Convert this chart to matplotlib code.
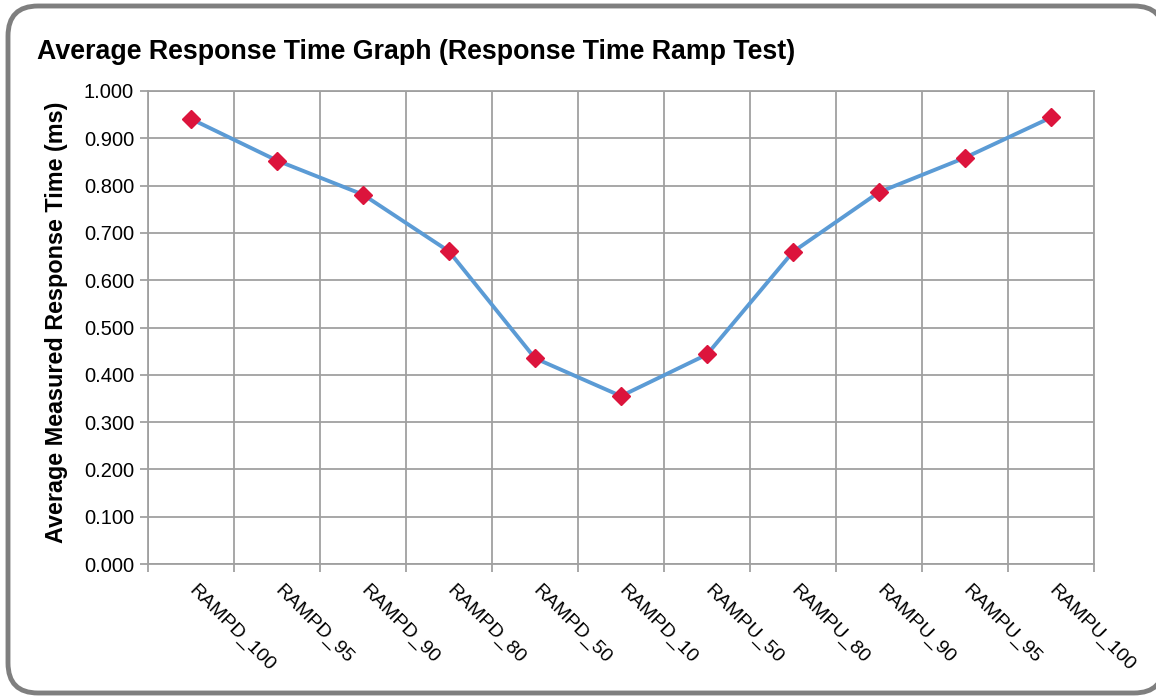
import matplotlib.pyplot as plt
from matplotlib.patches import FancyBboxPatch
import numpy as np

plt.rcParams['font.family'] = ['Liberation Sans', 'DejaVu Sans']

# Data
categories = ["RAMPD_100", "RAMPD_95", "RAMPD_90", "RAMPD_80", "RAMPD_50", "RAMPD_10",
              "RAMPU_50", "RAMPU_80", "RAMPU_90", "RAMPU_95", "RAMPU_100"]
response_ms = [0.941, 0.853, 0.781, 0.661, 0.435, 0.355, 0.443, 0.660, 0.786, 0.859, 0.944]
y_ticks = [0.0, 0.1, 0.2, 0.3, 0.4, 0.5, 0.6, 0.7, 0.8, 0.9, 1.0]

fig = plt.figure(figsize=(11.56, 6.98), dpi=100)

# Rounded grey frame around the whole chart (runs off the right edge)
W, H = 1156, 698
frame = FancyBboxPatch((8 / W, 5 / H), 1156 / W, 687 / H,
                       boxstyle="round,pad=0,rounding_size=%f" % (30 / W),
                       mutation_aspect=W / H,
                       transform=fig.transFigure, facecolor="white",
                       edgecolor="#7f7f7f", linewidth=3.5, clip_on=False, zorder=-5)
fig.patches.append(frame)

ax = fig.add_axes([148 / W, 134 / H, 946 / W, 473 / H])
ax.set_facecolor("none")

x = np.arange(len(categories))
ax.plot(x, response_ms, color="#5B9BD5", linewidth=2.8, zorder=3)
ax.plot(x, response_ms, linestyle="none", marker="D", markersize=9.5,
        color="#DC143C", zorder=4)

ax.set_xlim(-0.5, len(categories) - 0.5)
ax.set_ylim(0, 1.0)

grid_col = "#a0a0a0"
ax.set_yticks(y_ticks)
ax.set_yticklabels([f"{v:.3f}" for v in y_ticks], fontsize=14.5)
ax.set_xticks(x)
ax.set_xticklabels(categories, fontsize=14, rotation=-45, ha="left",
                   va="center", rotation_mode="anchor")
ax.set_xticks(np.arange(len(categories) + 1) - 0.5, minor=True)

ax.tick_params(axis="x", which="major", length=0, pad=17)
ax.tick_params(axis="x", which="minor", length=6, color=grid_col, width=1.3)
ax.tick_params(axis="y", which="major", length=6, color=grid_col, width=1.3, pad=4)

ax.grid(True, axis="y", which="major", color=grid_col, linewidth=1.3)
ax.grid(True, axis="x", which="minor", color=grid_col, linewidth=1.3)
ax.set_axisbelow(True)

for side in ["left", "bottom", "right", "top"]:
    ax.spines[side].set_color(grid_col)
    ax.spines[side].set_linewidth(1.3)

fig.text(57 / W, 1 - 322 / H, "Average Measured Response Time (ms)",
         fontsize=16.8, fontweight="bold", rotation=90, ha="center", va="center")

fig.text(37 / W, 1 - 52 / H, "Average Response Time Graph (Response Time Ramp Test)",
         fontsize=19.3, fontweight="bold", ha="left", va="center")

plt.savefig("out.png", dpi=100)
